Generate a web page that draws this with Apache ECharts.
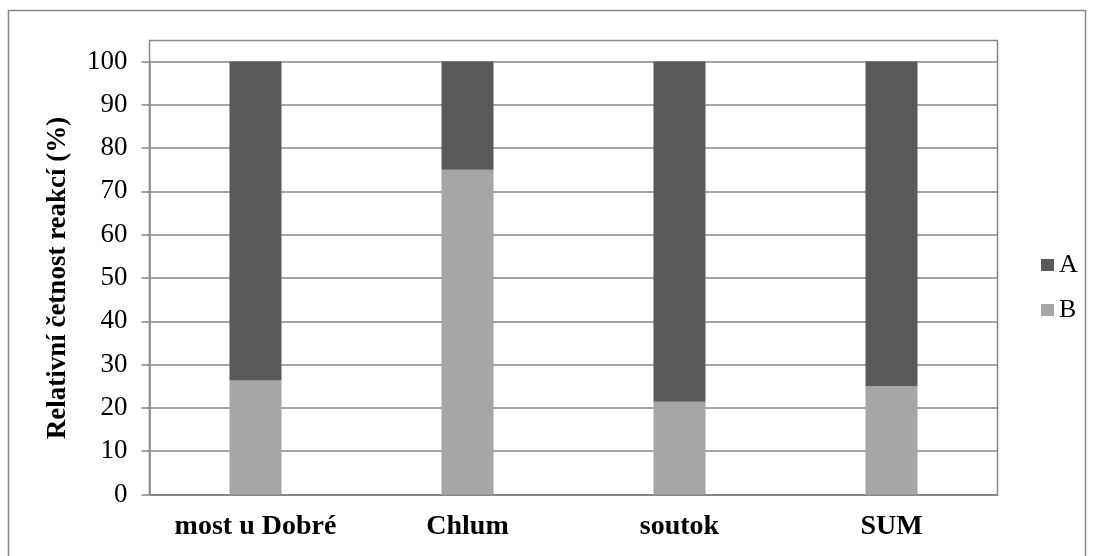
<!DOCTYPE html>
<html>
<head>
<meta charset="utf-8">
<script src="https://cdn.jsdelivr.net/npm/echarts@6/dist/echarts.min.js"></script>
<style>
  html, body { margin: 0; padding: 0; background: #fff; }
  #chart { width: 1094px; height: 556px; }
</style>
</head>
<body>
<div id="chart"></div>
<script>
// Sites and share of reactions (%) per type
const categories = ['most u Dobré', 'Chlum', 'soutok', 'SUM'];
const valuesB = [26.3, 75.0, 21.4, 25.0];
const valuesA = [73.7, 25.0, 78.6, 75.0];
const yTicks = { min: 0, max: 100, interval: 10 };

const FONT = '"Liberation Serif", "Times New Roman", serif';
const GRID_COLOR = '#878787';

const chart = echarts.init(document.getElementById('chart'), null, { renderer: 'canvas' });

chart.setOption({
  backgroundColor: '#ffffff',
  animation: false,
  graphic: [
    { // outer chart frame
      type: 'rect', silent: true, z: -1,
      shape: { x: 8.5, y: 10.5, width: 1077, height: 580 },
      style: { fill: 'none', stroke: GRID_COLOR, lineWidth: 1.5 }
    },
    { // plot area frame
      type: 'rect', silent: true, z: -1,
      shape: { x: 149.5, y: 40.5, width: 848, height: 454.5 },
      style: { fill: 'none', stroke: GRID_COLOR, lineWidth: 1.5 }
    }
  ],
  legend: {
    data: ['A', 'B'],
    orient: 'vertical',
    left: 1036,
    top: 247,
    itemWidth: 13,
    itemHeight: 12,
    itemGap: 19,
    icon: 'rect',
    textStyle: { fontFamily: FONT, fontSize: 26, color: '#000', padding: [0, 0, 0, 0] }
  },
  grid: { left: 149.5, right: 96.5, top: 61.5, bottom: 61.5, containLabel: false },
  xAxis: {
    type: 'category',
    data: categories,
    axisLine: { show: true, lineStyle: { color: GRID_COLOR, width: 1.5 } },
    axisTick: { show: false },
    axisLabel: { fontFamily: FONT, fontSize: 28, fontWeight: 'bold', color: '#000', margin: 18 }
  },
  yAxis: {
    type: 'value',
    min: yTicks.min,
    max: yTicks.max,
    interval: yTicks.interval,
    name: 'Relativní četnost reakcí (%)',
    nameLocation: 'middle',
    nameGap: 78,
    nameTextStyle: { fontFamily: FONT, fontSize: 27, fontWeight: 'bold', color: '#000' },
    axisLine: { show: true, lineStyle: { color: GRID_COLOR, width: 1.5 } },
    axisTick: { show: true, inside: false, length: 8, lineStyle: { color: GRID_COLOR, width: 1.5 } },
    splitLine: { show: true, lineStyle: { color: GRID_COLOR, width: 1.5 } },
    axisLabel: { fontFamily: FONT, fontSize: 27, color: '#000', margin: 22 }
  },
  series: [
    {
      name: 'B', type: 'bar', stack: 'total', data: valuesB,
      barWidth: 52,
      itemStyle: { color: '#a6a6a6' }
    },
    {
      name: 'A', type: 'bar', stack: 'total', data: valuesA,
      barWidth: 52,
      itemStyle: { color: '#595959' }
    }
  ]
});
</script>
</body>
</html>
